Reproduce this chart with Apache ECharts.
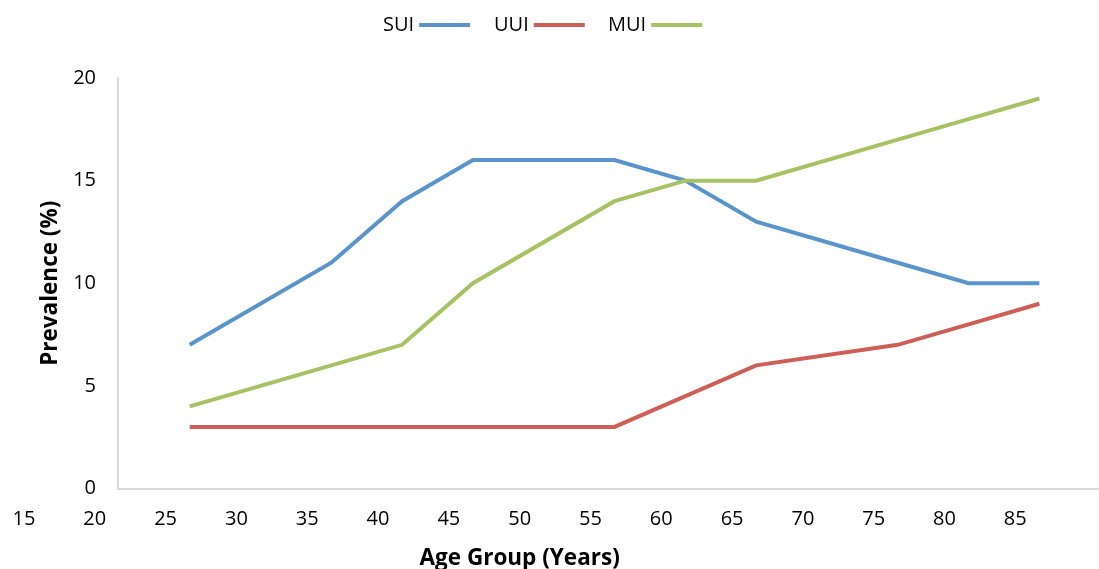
<!DOCTYPE html>
<html>
<head>
<meta charset="utf-8">
<script src="https://cdn.jsdelivr.net/npm/echarts@6/dist/echarts.min.js"></script>
<style>
  html, body { margin: 0; padding: 0; background: #fff; }
  #chart { width: 1099px; height: 569px; }
</style>
</head>
<body>
<div id="chart"></div>
<script>
// Age group midpoints (years)
const ages = [26.7, 36.7, 41.7, 46.7, 56.7, 61.7, 66.7, 76.7, 81.7, 86.7];
// Prevalence (%) by incontinence type
const sui = [7, 11, 14, 16, 16, 15, 13, 11, 10, 10];
const uui = [3, 3, 3, 3, 3, null, 6, 7, 8, 9];
const mui = [4, 6, 7, 10, 14, 15, 15, 17, 18, 19];
const seriesNames = ['SUI', 'UUI', 'MUI'];
// Age tick labels and prevalence ticks
const xTickMin = 15, xTickMax = 85, xTickStep = 5;
const yMin = 0, yMax = 20, yStep = 5;

const colors = ['#5b94cb', '#cd5f58', '#a6c264'];
const FONT = '"Open Sans", Lato, sans-serif';

function pairs(values) {
  return ages.map((a, i) => [a, values[i]]);
}

// Pixel scale shared by the plot axis and the tick-label axis
const pxPerYear = (1015.3 - 24) / (xTickMax - xTickMin);
const plotLeft = 118, plotRight = 1099;
const plotMin = xTickMin + (plotLeft - 24) / pxPerYear;
const plotMax = xTickMin + (plotRight - 24) / pxPerYear;

const chart = echarts.init(document.getElementById('chart'), null, { renderer: 'canvas' });

function legendFor(name, left) {
  return {
    data: [name],
    left: left,
    top: 15,
    padding: 0,
    orient: 'horizontal',
    align: 'right',
    icon: 'rect',
    itemWidth: 51,
    itemHeight: 4,
    selectedMode: false,
    textStyle: { fontFamily: FONT, fontSize: 20, color: '#000', padding: [0, 0, 0, 0] }
  };
}

chart.setOption({
  animation: false,
  backgroundColor: '#fff',
  color: colors,
  legend: [
    legendFor('SUI', 383),
    legendFor('UUI', 494),
    legendFor('MUI', 608)
  ],
  grid: [
    { left: plotLeft, right: 1099 - plotRight, top: 78, bottom: 80.5, containLabel: false, outerBoundsMode: 'none' },
    { left: 24, right: 1099 - 1015.3, top: 78, bottom: 80.5, containLabel: false, outerBoundsMode: 'none' }
  ],
  xAxis: [
    {
      type: 'value', gridIndex: 0, min: plotMin, max: plotMax,
      axisLine: { show: true, lineStyle: { color: '#d9d9d9', width: 2 } },
      axisTick: { show: false }, axisLabel: { show: false }, splitLine: { show: false }
    },
    {
      type: 'value', gridIndex: 1, min: xTickMin, max: xTickMax, interval: xTickStep,
      name: 'Age Group (Years)', nameLocation: 'middle', nameGap: 59,
      nameTextStyle: { fontFamily: FONT, fontSize: 22.5, fontWeight: 'bold', color: '#000' },
      axisLine: { show: false }, axisTick: { show: false }, splitLine: { show: false },
      axisLabel: { fontFamily: FONT, fontSize: 20, color: '#000', margin: 21 }
    }
  ],
  yAxis: [
    {
      type: 'value', gridIndex: 0, min: yMin, max: yMax, interval: yStep,
      name: 'Prevalence (%)', nameLocation: 'middle', nameGap: 52,
      nameTextStyle: { fontFamily: FONT, fontSize: 22.5, fontWeight: 'bold', color: '#000' },
      axisLine: { show: true, lineStyle: { color: '#d9d9d9', width: 2 } },
      axisTick: { show: false }, splitLine: { show: false },
      axisLabel: { fontFamily: FONT, fontSize: 20, color: '#000', margin: 22 }
    },
    {
      type: 'value', gridIndex: 1, min: yMin, max: yMax, show: false
    }
  ],
  series: [
    { name: seriesNames[0], type: 'line', xAxisIndex: 0, yAxisIndex: 0, data: pairs(sui) },
    { name: seriesNames[1], type: 'line', xAxisIndex: 0, yAxisIndex: 0, data: pairs(uui), connectNulls: true },
    { name: seriesNames[2], type: 'line', xAxisIndex: 0, yAxisIndex: 0, data: pairs(mui) }
  ].map((s, i) => Object.assign(s, {
    showSymbol: false,
    symbol: 'none',
    lineStyle: { width: 4, color: colors[i], cap: 'butt', join: 'miter' },
    itemStyle: { color: colors[i] },
    z: 3 + i
  }))
});
</script>
</body>
</html>
